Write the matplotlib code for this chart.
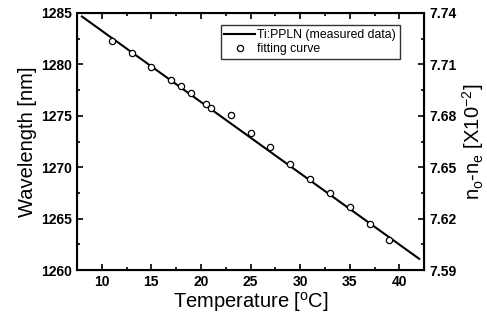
import matplotlib
matplotlib.use("Agg")
import matplotlib.pyplot as plt
from matplotlib.ticker import MultipleLocator, FormatStrFormatter

plt.rcParams['font.family'] = ['Liberation Sans', 'DejaVu Sans']

# data
temp_pts = [11, 13, 15, 17, 18, 19, 20.5, 21, 23, 25, 27, 29, 31, 33, 35, 37, 39]
wl_pts = [1282.3, 1281.1, 1279.7, 1278.5, 1277.9, 1277.2, 1276.1, 1275.8, 1275.1,
          1273.3, 1272.0, 1270.3, 1268.9, 1267.5, 1266.1, 1264.5, 1262.9]
line_x = [8.0, 42.0]
line_y = [1284.65, 1261.1]
right_ticks = [7.59, 7.62, 7.65, 7.68, 7.71, 7.74]

fig = plt.figure(figsize=(4.87, 3.22), dpi=100)
ax = fig.add_axes([0.158, 0.161, 0.713, 0.799])

ax.plot(line_x, line_y, color='black', lw=1.5, label='Ti:PPLN (measured data)')
ax.plot(temp_pts, wl_pts, 'o', mfc='white', mec='black', ms=4.5, mew=0.9,
        label='fitting curve')

ax.set_xlim(7.5, 42.5)
ax.set_ylim(1260, 1285)
ax.xaxis.set_major_locator(MultipleLocator(5))
ax.xaxis.set_minor_locator(MultipleLocator(2.5))
ax.yaxis.set_major_locator(MultipleLocator(5))
ax.yaxis.set_minor_locator(MultipleLocator(2.5))
ax.set_xticks([10, 15, 20, 25, 30, 35, 40])
ax.tick_params(which='both', direction='in', top=True, right=False, width=1.2)
ax.tick_params(which='major', length=4, labelsize=10)
ax.tick_params(which='minor', length=2)
for lab in ax.get_xticklabels() + ax.get_yticklabels():
    lab.set_fontweight('bold')
for s in ax.spines.values():
    s.set_linewidth(1.5)

ax.set_xlabel('Temperature [$^\\mathregular{o}$C]', fontsize=14.5, labelpad=1)
ax.set_ylabel('Wavelength [nm]', fontsize=14.5, labelpad=3)

ax2 = ax.twinx()
ax2.set_ylim(7.59, 7.74)
ax2.set_yticks(right_ticks)
ax2.yaxis.set_minor_locator(MultipleLocator(0.015))
ax2.yaxis.set_major_formatter(FormatStrFormatter('%.2f'))
ax2.tick_params(which='both', direction='in', width=1.2)
ax2.tick_params(which='major', length=4, labelsize=10)
ax2.tick_params(which='minor', length=2)
for lab in ax2.get_yticklabels():
    lab.set_fontweight('bold')
ax2.set_ylabel('n$_\\mathregular{o}$-n$_\\mathregular{e}$ [X10$^\\mathregular{-2}$]',
               fontsize=14.5, labelpad=3)

leg = ax.legend(loc='upper right', fontsize=8.8, frameon=True, fancybox=False,
                edgecolor='black', handlelength=2.5, handletextpad=0.2,
                borderpad=0.3, labelspacing=0.15, bbox_to_anchor=(0.947, 0.975))
leg.get_frame().set_linewidth(1.0)

fig.savefig('out.png', dpi=100)
